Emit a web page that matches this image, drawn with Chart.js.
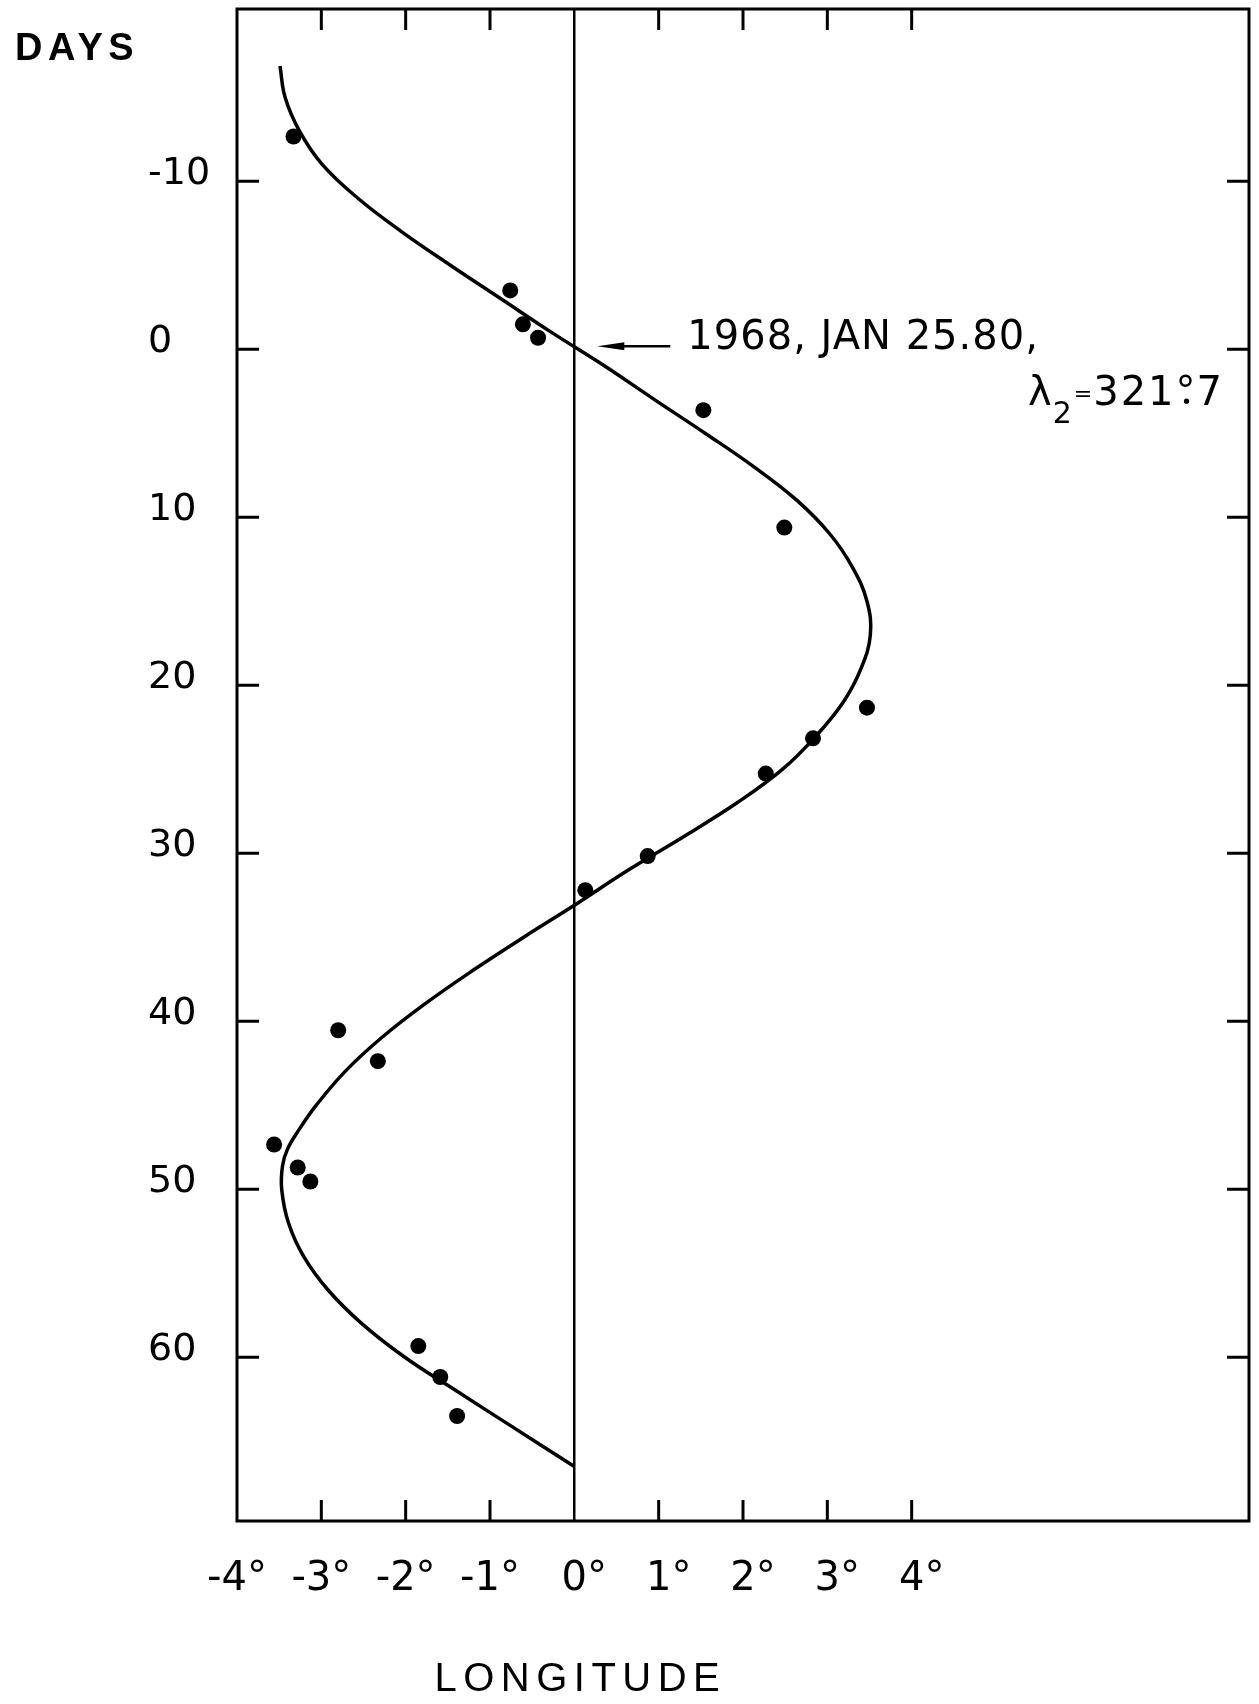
<!DOCTYPE html>
<html lang="en">
<head>
<meta charset="UTF-8">
<title>Longitude drift</title>
<script src="https://cdn.jsdelivr.net/npm/chart.js"></script>
<style>
    body { margin: 0; background: #fff; }
    canvas { display: block; }
</style>
</head>
<body>
<canvas id="chart" width="1259" height="1704"></canvas>
<script>
// fitted curve (longitude in degrees, days)
var curveLon = [-3.49, -3.43, -3.26, -2.99, -2.57, -2.05, -1.47, -0.87, -0.27,
                0.36, 0.95, 1.55, 2.13, 2.64, 3.03, 3.30, 3.47, 3.51, 3.40, 3.19, 2.87, 2.47, 1.93, 1.30, 0.64, 0,
                -0.60, -1.21, -1.78, -2.29, -2.72, -3.06, -3.27, -3.40, -3.46, -3.47, -3.39, -3.21, -2.92, -2.52, -2.01, -1.40, -0.78, 0];
var curveDay = [-16.86, -15, -13, -11, -9, -7, -5, -3, -1,
                1, 3, 5, 7, 9, 11, 13, 15, 17, 19, 21, 23, 25, 27, 29, 31, 33.1,
                35, 37, 39, 41, 43, 45, 46.5, 47.6, 48.6, 50, 52, 54, 56, 58, 60, 62, 64, 66.5];

// observed positions
var obsLon = [-3.33, -0.76, -0.61, -0.43, 1.53, 2.49, 3.47, 2.83, 2.27, 0.87, 0.13,
              -2.80, -2.33, -3.56, -3.28, -3.13, -1.85, -1.59, -1.39];
var obsDay = [-12.66, -3.50, -1.48, -0.68, 3.63, 10.62, 21.34, 23.16, 25.26, 30.17, 32.20,
              40.54, 42.38, 47.34, 48.71, 49.54, 59.34, 61.18, 63.50];

var dayTicks = [-10, 0, 10, 20, 30, 40, 50, 60];
var lonTicks = [-4, -3, -2, -1, 0, 1, 2, 3, 4];

var yTitle = "DAYS";
var xTitle = "LONGITUDE";
var noteDate = "1968, JAN 25.80,";

var numFont = "DejaVu Sans";
var letterFont = "Liberation Sans";

// frame, inward tick marks, titles and the note
var decorations = {
    id: "decorations",
    afterDraw(chart) {
        var ctx = chart.ctx;
        var area = chart.chartArea;
        var xs = chart.scales.x;
        var ys = chart.scales.y;
        ctx.save();
        ctx.strokeStyle = "#000";
        ctx.fillStyle = "#000";
        ctx.lineWidth = 3;
        ctx.strokeRect(area.left, area.top, area.right - area.left, area.bottom - area.top);

        ctx.beginPath();
        lonTicks.forEach(v => {
            if (v === 0 || v === xs.min) return;
            var px = xs.getPixelForValue(v);
            ctx.moveTo(px, area.top);
            ctx.lineTo(px, area.top + 21);
            ctx.moveTo(px, area.bottom);
            ctx.lineTo(px, area.bottom - 21);
        });
        dayTicks.forEach(v => {
            var py = ys.getPixelForValue(v);
            ctx.moveTo(area.left, py);
            ctx.lineTo(area.left + 22, py);
            ctx.moveTo(area.right, py);
            ctx.lineTo(area.right - 22, py);
        });
        ctx.stroke();

        // titles
        ctx.textBaseline = "alphabetic";
        ctx.font = "bold 38px " + letterFont;
        ctx.letterSpacing = "5.5px";
        ctx.textAlign = "left";
        ctx.fillText(yTitle, 15, 60);

        ctx.font = "40px " + letterFont;
        ctx.letterSpacing = "6.5px";
        ctx.textAlign = "center";
        ctx.fillText(xTitle, xs.getPixelForValue(0) + 6, 1691);

        // arrow and note at day 0
        var x0 = xs.getPixelForValue(0);
        var y0 = ys.getPixelForValue(0);
        ctx.letterSpacing = "0px";
        ctx.lineWidth = 2.5;
        ctx.beginPath();
        ctx.moveTo(x0 + 40, y0 - 3);
        ctx.lineTo(x0 + 96, y0 - 3);
        ctx.stroke();
        ctx.beginPath();
        ctx.moveTo(x0 + 23, y0 - 3);
        ctx.lineTo(x0 + 50, y0 - 7);
        ctx.lineTo(x0 + 50, y0 + 1);
        ctx.closePath();
        ctx.fill();

        ctx.textAlign = "left";
        ctx.font = "40px " + numFont;
        ctx.letterSpacing = "1px";
        ctx.fillText(noteDate, x0 + 113, y0);

        var tx = 1028;
        var base = y0 + 56;
        ctx.letterSpacing = "0px";
        ctx.font = "40px " + numFont;
        ctx.fillText("λ", tx, base);
        tx += ctx.measureText("λ").width;
        ctx.font = "30px " + numFont;
        ctx.fillText("2", tx + 1, base + 18);
        tx += ctx.measureText("2").width + 3;
        ctx.font = "22px " + numFont;
        ctx.fillText("=", tx, base - 4);
        tx += ctx.measureText("=").width + 1;
        ctx.font = "40px " + numFont;
        ctx.letterSpacing = "2px";
        ctx.fillText("321", tx, base);
        tx += ctx.measureText("321").width;
        ctx.letterSpacing = "0px";
        ctx.fillText("°", tx, base);
        var dw = ctx.measureText("°").width;
        ctx.beginPath();
        ctx.arc(tx + dw / 2 + 1, base - 4, 2.6, 0, Math.PI * 2);
        ctx.fill();
        tx += dw + 1;
        ctx.fillText("7", tx, base);
        ctx.restore();
    }
};

new Chart(document.getElementById("chart"), {
    type: "scatter",
    data: {
        datasets: [
            {
                data: curveLon.map((v, i) => ({x: v, y: curveDay[i]})),
                showLine: true,
                borderColor: "#000",
                borderWidth: 3.5,
                pointRadius: 0,
                tension: 0.4,
                fill: false
            },
            {
                data: obsLon.map((v, i) => ({x: v, y: obsDay[i]})),
                showLine: false,
                pointRadius: 8,
                pointBackgroundColor: "#000",
                pointBorderWidth: 0
            }
        ]
    },
    options: {
        responsive: false,
        animation: false,
        events: [],
        layout: { padding: { top: 9, right: 10, left: 148, bottom: 0 } },
        plugins: { legend: { display: false }, tooltip: { enabled: false } },
        scales: {
            x: {
                type: "linear",
                min: -4,
                max: 8,
                afterBuildTicks: s => { s.ticks = lonTicks.map(v => ({value: v})); },
                afterFit: s => {
                    s.height = 183;
                    s.paddingLeft = 0;
                    s.paddingRight = 0;
                },
                border: { display: false },
                grid: {
                    drawTicks: false,
                    tickLength: 0,
                    lineWidth: 2.5,
                    color: c => (c.tick && c.tick.value === 0) ? "#000" : "rgba(0,0,0,0)"
                },
                ticks: {
                    autoSkip: false,
                    maxRotation: 0,
                    padding: 35,
                    color: "#000",
                    font: { family: numFont, size: 40 },
                    callback: v => (v < 0 ? "-" + Math.abs(v) : "\u2002" + v) + "°"
                }
            },
            y: {
                type: "linear",
                reverse: true,
                min: -20.25,
                max: 69.75,
                afterBuildTicks: s => { s.ticks = dayTicks.map(v => ({value: v})); },
                afterFit: s => {
                    s.width = 89;
                    s.paddingTop = 0;
                    s.paddingBottom = 0;
                },
                border: { display: false },
                grid: { display: false, drawTicks: false, tickLength: 0 },
                ticks: {
                    crossAlign: "far",
                    padding: 27,
                    labelOffset: -7,
                    color: "#000",
                    font: { family: numFont, size: 38 }
                }
            }
        }
    },
    plugins: [decorations]
});
</script>
</body>
</html>
